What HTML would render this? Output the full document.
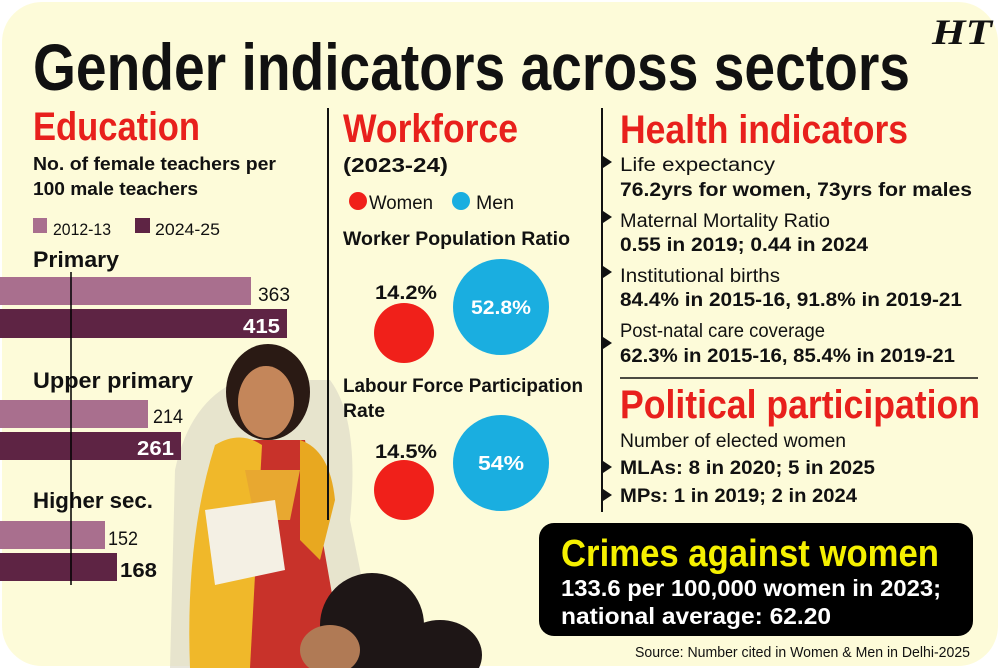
<!DOCTYPE html>
<html><head><meta charset="utf-8"><style>
html,body{margin:0;padding:0;background:#fff;}
svg{display:block;}
text{font-family:"Liberation Sans",sans-serif;}
.b{font-weight:bold;}
</style></head><body>
<svg width="1000" height="668" viewBox="0 0 1000 668" xmlns="http://www.w3.org/2000/svg">
<rect x="2" y="2" width="996" height="664" rx="40" fill="#fdfbd9"/>
<g>
<path d="M170 668 L175 470 Q190 400 240 380 L330 380 Q360 420 350 520 L380 668 Z" fill="#d8d6c4" opacity="0.6"/>
<ellipse cx="268" cy="392" rx="42" ry="48" fill="#2a1a14"/>
<ellipse cx="266" cy="402" rx="28" ry="36" fill="#c4865a"/>
<path d="M235 440 L305 440 L345 668 L205 668 Z" fill="#c8322a"/>
<path d="M215 445 Q240 430 262 445 L250 668 L190 668 Q185 540 215 445 Z" fill="#f0b82a"/>
<path d="M300 440 Q330 450 335 500 L320 560 L300 540 Z" fill="#e8a820"/>
<path d="M245 470 L300 470 L290 520 L255 520 Z" fill="#e8a830"/>
<path d="M205 510 L275 500 L285 570 L215 585 Z" fill="#f4f0e4"/>
<ellipse cx="372" cy="625" rx="52" ry="52" fill="#1e1616"/>
<ellipse cx="440" cy="655" rx="42" ry="35" fill="#1e1616"/>
<ellipse cx="330" cy="650" rx="30" ry="25" fill="#b07a55"/>
</g>
<text x="33" y="90" font-size="66" class="b" fill="#111" textLength="877" lengthAdjust="spacingAndGlyphs">Gender indicators across sectors</text>
<text x="932" y="44" font-size="36" font-style="italic" font-weight="bold" fill="#111" textLength="60" lengthAdjust="spacingAndGlyphs" style="font-family:'Liberation Serif',serif">HT</text>
<line x1="328" y1="108" x2="328" y2="520" stroke="#111" stroke-width="2"/>
<line x1="602" y1="108" x2="602" y2="512" stroke="#111" stroke-width="2"/>
<text x="33" y="140" font-size="40" class="b" fill="#e8201c" textLength="167" lengthAdjust="spacingAndGlyphs">Education</text>
<text x="33" y="170" font-size="18" class="b" fill="#111" textLength="243" lengthAdjust="spacingAndGlyphs">No. of female teachers per</text>
<text x="33" y="195" font-size="18" class="b" fill="#111" textLength="165" lengthAdjust="spacingAndGlyphs">100 male teachers</text>
<rect x="33" y="218" width="14" height="15" fill="#a96f8e"/>
<text x="53" y="235" font-size="17" fill="#111" textLength="58" lengthAdjust="spacingAndGlyphs">2012-13</text>
<rect x="135" y="218" width="15" height="15" fill="#5e2444"/>
<text x="155" y="235" font-size="17" fill="#111" textLength="65" lengthAdjust="spacingAndGlyphs">2024-25</text>
<text x="33" y="267" font-size="22" class="b" fill="#111" textLength="86" lengthAdjust="spacingAndGlyphs">Primary</text>
<rect x="0" y="277" width="251" height="28" fill="#a96f8e"/>
<rect x="0" y="309" width="287" height="29" fill="#5e2444"/>
<text x="258" y="301" font-size="19" fill="#111" textLength="32" lengthAdjust="spacingAndGlyphs">363</text>
<text x="243" y="333" font-size="20" class="b" fill="#fff" textLength="37" lengthAdjust="spacingAndGlyphs">415</text>
<text x="33" y="388" font-size="22" class="b" fill="#111" textLength="160" lengthAdjust="spacingAndGlyphs">Upper primary</text>
<rect x="0" y="400" width="148" height="28" fill="#a96f8e"/>
<rect x="0" y="432" width="181" height="28" fill="#5e2444"/>
<text x="153" y="423" font-size="19" fill="#111" textLength="30" lengthAdjust="spacingAndGlyphs">214</text>
<text x="137" y="455" font-size="20" class="b" fill="#fff" textLength="37" lengthAdjust="spacingAndGlyphs">261</text>
<text x="33" y="508" font-size="22" class="b" fill="#111" textLength="120" lengthAdjust="spacingAndGlyphs">Higher sec.</text>
<rect x="0" y="521" width="105" height="28" fill="#a96f8e"/>
<rect x="0" y="553" width="117" height="28" fill="#5e2444"/>
<text x="108" y="545" font-size="19" fill="#111" textLength="30" lengthAdjust="spacingAndGlyphs">152</text>
<text x="120" y="577" font-size="20" class="b" fill="#111" textLength="37" lengthAdjust="spacingAndGlyphs">168</text>
<line x1="71" y1="272" x2="71" y2="585" stroke="#000" stroke-width="1.5"/>
<text x="343" y="142" font-size="40" class="b" fill="#e8201c" textLength="175" lengthAdjust="spacingAndGlyphs">Workforce</text>
<text x="343" y="172" font-size="20" class="b" fill="#111" textLength="105" lengthAdjust="spacingAndGlyphs">(2023-24)</text>
<circle cx="358" cy="201" r="9" fill="#f0201a"/>
<text x="369" y="209" font-size="19" fill="#111" textLength="64" lengthAdjust="spacingAndGlyphs">Women</text>
<circle cx="461" cy="201" r="9" fill="#1aaee0"/>
<text x="476" y="209" font-size="19" fill="#111" textLength="38" lengthAdjust="spacingAndGlyphs">Men</text>
<text x="343" y="245" font-size="19" class="b" fill="#111" textLength="227" lengthAdjust="spacingAndGlyphs">Worker Population Ratio</text>
<text x="375" y="299" font-size="19" class="b" fill="#111" textLength="62" lengthAdjust="spacingAndGlyphs">14.2%</text>
<circle cx="404" cy="333" r="30" fill="#f0201a"/>
<circle cx="501" cy="307" r="48" fill="#1aaee0"/>
<text x="501" y="314" font-size="19" class="b" fill="#fff" text-anchor="middle" textLength="60" lengthAdjust="spacingAndGlyphs">52.8%</text>
<text x="343" y="392" font-size="19" class="b" fill="#111" textLength="240" lengthAdjust="spacingAndGlyphs">Labour Force Participation</text>
<text x="343" y="417" font-size="19" class="b" fill="#111" textLength="42" lengthAdjust="spacingAndGlyphs">Rate</text>
<text x="375" y="458" font-size="19" class="b" fill="#111" textLength="62" lengthAdjust="spacingAndGlyphs">14.5%</text>
<circle cx="404" cy="490" r="30" fill="#f0201a"/>
<circle cx="501" cy="463" r="48" fill="#1aaee0"/>
<text x="501" y="470" font-size="20" class="b" fill="#fff" text-anchor="middle" textLength="46" lengthAdjust="spacingAndGlyphs">54%</text>
<text x="620" y="143" font-size="40" class="b" fill="#e8201c" textLength="288" lengthAdjust="spacingAndGlyphs">Health indicators</text>
<g fill="#111">
<polygon points="603,156 612,162 603,168"/>
<polygon points="603,211 612,217 603,223"/>
<polygon points="603,266 612,272 603,278"/>
<polygon points="603,337 612,343 603,349"/>
<polygon points="603,461 612,467 603,473"/>
<polygon points="603,489 612,495 603,501"/>
</g>
<text x="620" y="171" font-size="19" fill="#111" textLength="155" lengthAdjust="spacingAndGlyphs">Life expectancy</text>
<text x="620" y="196" font-size="19" class="b" fill="#111" textLength="352" lengthAdjust="spacingAndGlyphs">76.2yrs for women, 73yrs for males</text>
<text x="620" y="227" font-size="19" fill="#111" textLength="210" lengthAdjust="spacingAndGlyphs">Maternal Mortality Ratio</text>
<text x="620" y="251" font-size="19" class="b" fill="#111" textLength="248" lengthAdjust="spacingAndGlyphs">0.55 in 2019; 0.44 in 2024</text>
<text x="620" y="282" font-size="19" fill="#111" textLength="160" lengthAdjust="spacingAndGlyphs">Institutional births</text>
<text x="620" y="306" font-size="19" class="b" fill="#111" textLength="342" lengthAdjust="spacingAndGlyphs">84.4% in 2015-16, 91.8% in 2019-21</text>
<text x="620" y="337" font-size="19" fill="#111" textLength="205" lengthAdjust="spacingAndGlyphs">Post-natal care coverage</text>
<text x="620" y="362" font-size="19" class="b" fill="#111" textLength="335" lengthAdjust="spacingAndGlyphs">62.3% in 2015-16, 85.4% in 2019-21</text>
<line x1="620" y1="378" x2="978" y2="378" stroke="#111" stroke-width="1.5"/>
<text x="620" y="418" font-size="40" class="b" fill="#e8201c" textLength="360" lengthAdjust="spacingAndGlyphs">Political participation</text>
<text x="620" y="447" font-size="19" fill="#111" textLength="226" lengthAdjust="spacingAndGlyphs">Number of elected women</text>
<text x="620" y="474" font-size="19" class="b" fill="#111" textLength="255" lengthAdjust="spacingAndGlyphs">MLAs: 8 in 2020; 5 in 2025</text>
<text x="620" y="502" font-size="19" class="b" fill="#111" textLength="237" lengthAdjust="spacingAndGlyphs">MPs: 1 in 2019; 2 in 2024</text>
<rect x="539" y="523" width="434" height="113" rx="15" fill="#000"/>
<text x="561" y="566" font-size="38" class="b" fill="#f5f000" textLength="378" lengthAdjust="spacingAndGlyphs">Crimes against women</text>
<text x="561" y="596" font-size="23" class="b" fill="#fff" textLength="380" lengthAdjust="spacingAndGlyphs">133.6 per 100,000 women in 2023;</text>
<text x="561" y="624" font-size="23" class="b" fill="#fff" textLength="270" lengthAdjust="spacingAndGlyphs">national average: 62.20</text>
<text x="635" y="657" font-size="15" fill="#111" textLength="335" lengthAdjust="spacingAndGlyphs">Source: Number cited in Women &amp; Men in Delhi-2025</text>
</svg>
</body></html>
